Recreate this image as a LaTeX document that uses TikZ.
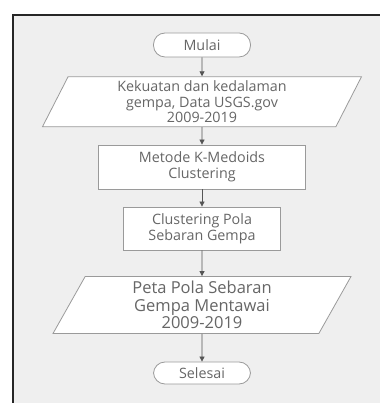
\documentclass[tikz,border=0pt]{standalone}
\usepackage{fontspec}
\setmainfont{Open Sans}
\usetikzlibrary{shapes.geometric,arrows.meta,positioning}
\definecolor{txtgray}{HTML}{666666}
\definecolor{edgegray}{HTML}{9A9A9A}
\definecolor{linegray}{HTML}{555555}
\definecolor{bggray}{HTML}{EFEFEF}

\begin{document}
\begin{tikzpicture}[x=1pt,y=1pt,
    every node/.style={text=txtgray,align=center,font=\fontsize{14.3}{15.8}\selectfont},
    terminal/.style={draw=edgegray,fill=white,line width=0.8pt,rounded corners=11.5pt,minimum width=97pt,minimum height=24pt,inner sep=0pt},
    proses/.style={draw=edgegray,fill=white,line width=0.8pt,minimum height=44pt,inner sep=0pt},
    io/.style={trapezium,trapezium left angle=#1,trapezium right angle={180-#1},trapezium stretches body,draw=edgegray,fill=white,line width=0.8pt,inner sep=0pt},
    arr/.style={-{Triangle[length=5pt,width=5pt]},draw=linegray,line width=0.8pt}]
  \useasboundingbox (0,0) rectangle (380,403);
  \fill[bggray] (13,0) rectangle (380,388); \draw[line width=1.3pt,black!85] (13,0) -- (13,388) -- (380,388);
  % bagan alir
  \node[terminal] (mulai) at (202,358) {Mulai};
  \node[io=59,minimum width=319pt,minimum height=50pt] (data) at (202,301.3) {Kekuatan dan kedalaman\\gempa, Data USGS.gov\\2009-2019};
  \node[proses,minimum width=207pt] (metode) at (202,236) {Metode K-Medoids\\Clustering};
  \node[proses,minimum width=157pt,minimum height=43pt] (pola) at (202,174.5) {Clustering Pola\\Sebaran Gempa};
  \node[io=56,minimum width=298pt,minimum height=57pt,font=\fontsize{16.5}{17.5}\selectfont] (peta) at (202,98) {Peta Pola Sebaran\\Gempa Mentawai\\2009-2019};
  \node[terminal,minimum height=22pt] (selesai) at (202,30) {Selesai};
  \foreach \a/\b in {mulai/data,data/metode,metode/pola,pola/peta,peta/selesai} { \draw[arr] (\a) -- (\b); }
\end{tikzpicture}
\end{document}
